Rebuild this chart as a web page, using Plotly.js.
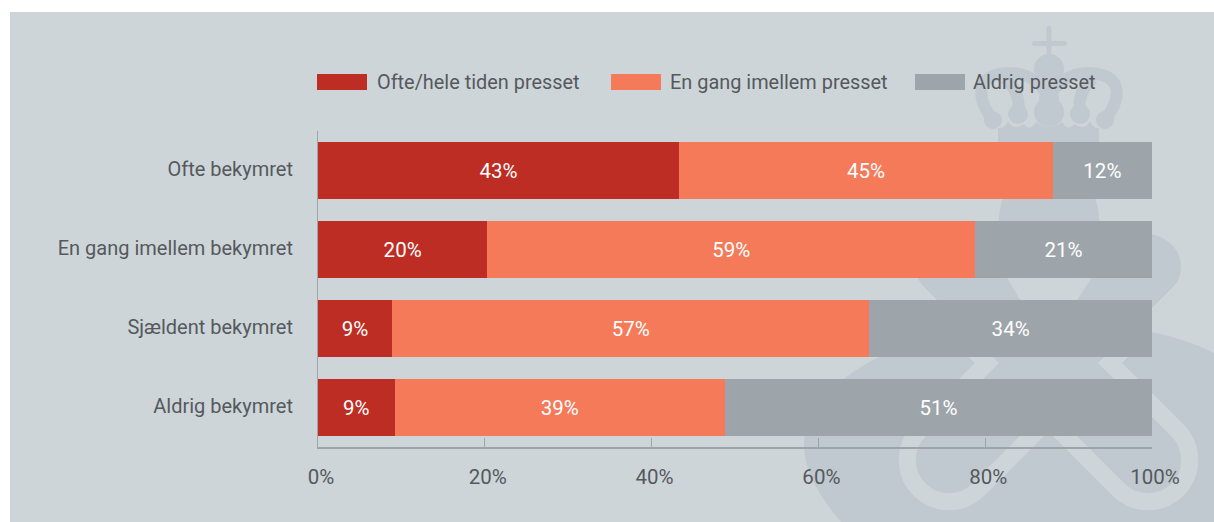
<!DOCTYPE html>
<html>
<head>
<meta charset="utf-8">
<script src="https://cdn.plot.ly/plotly-3.0.1.min.js"></script>
<style>html,body{margin:0;padding:0;background:#fff}#chart{width:1214px;height:522px}</style>
</head>
<body>
<div id="chart"></div>
<script>
const categories = ["Ofte bekymret", "En gang imellem bekymret", "Sjældent bekymret", "Aldrig bekymret"];
const seriesNames = ["Ofte/hele tiden presset", "En gang imellem presset", "Aldrig presset"];
const often = [43.3, 20.3, 8.9, 9.2];
const sometimes = [44.8, 58.5, 57.2, 39.6];
const never = [11.9, 21.2, 33.9, 51.2];
const oftenLabels = ["43%", "20%", "9%", "9%"];
const sometimesLabels = ["45%", "59%", "57%", "39%"];
const neverLabels = ["12%", "21%", "34%", "51%"];
const colors = ["#bd2d23", "#f47a5a", "#9da4aa"];
const tickValues = [0, 20, 40, 60, 80, 100];
const tickLabels = ["0%", "20%", "40%", "60%", "80%", "100%"];

const W = 1214, H = 522, FONT = "Roboto, sans-serif";
const margin = {l: 318, r: 62, t: 131, b: 75};
const px = x => (x - margin.l) / (W - margin.l - margin.r);
const py = y => (H - margin.b - y) / (H - margin.t - margin.b);

const BG = "#ced5d9", DK = "#c1c9d0";
const emblem = `<svg xmlns="http://www.w3.org/2000/svg" width="${W}" height="${H}" viewBox="0 0 ${W} ${H}">
<defs><clipPath id="c"><rect x="10" y="12" width="1204" height="510"/></clipPath></defs>
<rect x="10" y="12" width="1204" height="510" fill="${BG}"/>
<g clip-path="url(#c)">
<g fill="${DK}">
<rect x="1046.5" y="26" width="5" height="36" rx="2.5"/><rect x="1032" y="41" width="35" height="5" rx="2.5"/>
<circle cx="1049" cy="69" r="15"/><circle cx="1049" cy="98" r="10"/><circle cx="1049" cy="112" r="15"/>
<circle cx="1018" cy="114" r="10"/><circle cx="1080" cy="114" r="10"/><circle cx="993" cy="120" r="9"/><circle cx="1105" cy="120" r="9"/>
<path d="M998 146V128Q1005 129 1008 121Q1013 131 1024 124Q1030 132 1036 122Q1049 132 1062 122Q1068 132 1074 124Q1085 131 1090 121Q1093 129 1099 128V146Z"/>
<path d="M999 221C999 210 1001 203 1004 195H1094C1097 203 1099 210 1099 221V240L1130 233C1160 230 1181 245 1181 267C1181 277 1177 283 1173 287L1098 362H999L924 287C920 283 916 277 916 267C916 245 937 230 967 233L999 240Z"/>
<path d="M841 522C818 495 804 470 804 445C804 420 820 395 845 378C865 362 905 342 945 332H1152C1170 336 1195 343 1214 353V522Z"/>
</g>
<g fill="none" stroke="${DK}" stroke-width="12">
<path d="M995 122C976 100 976 78 1000 74C1020 70 1036 78 1046 92"/>
<path d="M1103 122C1122 100 1122 78 1098 74C1078 70 1062 78 1052 92"/>
<path d="M1005 78C1016 88 1020 100 1018 112"/>
<path d="M1093 78C1082 88 1078 100 1080 112"/>
</g>
<polygon fill="${BG}" points="1000,266 1099,266 1072,308 1025,308"/>
<g fill="none" stroke="${BG}" stroke-width="17" stroke-linejoin="miter">
<path d="M1170 303L1110 363L1177.5 430.5A41.5 41.5 0 0 1 1118.5 489.5L1025 396"/>
<path d="M927 303L987 363L919.5 430.5A41.5 41.5 0 0 0 978.5 489.5L1072 396"/>
</g>
</g>
</svg>`;

const mk = (name, x, c, t) => ({
  type: "bar", orientation: "h", name, y: categories, x, text: t,
  textposition: "inside", insidetextanchor: "middle", textangle: 0, constraintext: "none",
  textfont: {family: FONT, size: 20.5, color: "#ffffff"},
  marker: {color: c, line: {width: 0}}, showlegend: false, hoverinfo: "name+x"
});
const data = [
  mk(seriesNames[0], often, colors[0], oftenLabels),
  mk(seriesNames[1], sometimes, colors[1], sometimesLabels),
  mk(seriesNames[2], never, colors[2], neverLabels)
];

const legendX = [317, 611, 915];
const legendGap = [60, 59, 58];
const legendShapes = colors.map((c, i) => ({
  type: "rect", xref: "paper", yref: "paper", layer: "above", line: {width: 0}, fillcolor: c,
  x0: px(legendX[i]), x1: px(legendX[i] + 50), y0: py(90), y1: py(74)
}));
const legendText = seriesNames.map((n, i) => ({
  xref: "paper", yref: "paper", x: px(legendX[i] + legendGap[i] - 2), y: py(82),
  xanchor: "left", yanchor: "middle", showarrow: false, text: n,
  font: {family: FONT, size: 19.9, color: "#55595d"}
}));

const layout = {
  width: W, height: H, margin, barmode: "stack", bargap: 0.278, showlegend: false,
  paper_bgcolor: "#ffffff", plot_bgcolor: "rgba(0,0,0,0)",
  font: {family: FONT, color: "#55595d"},
  images: [{source: "data:image/svg+xml;utf8," + encodeURIComponent(emblem), xref: "paper", yref: "paper",
    x: px(0), y: py(0), sizex: W / (W - margin.l - margin.r), sizey: H / (H - margin.t - margin.b),
    xanchor: "left", yanchor: "top", sizing: "stretch", layer: "below"}],
  xaxis: {range: [0, 100], tickvals: tickValues, ticktext: tickLabels, ticks: "inside", ticklen: 9, tickwidth: 1,
    tickcolor: "#9da4aa", showline: true, linecolor: "#9da4aa", linewidth: 2, showgrid: false, zeroline: false,
    ticklabelstandoff: 10, ticklabelshift: 3, layer: "below traces",
    tickfont: {family: FONT, size: 20.5, color: "#55595d"}},
  yaxis: {autorange: false, range: [3.5, -0.5], type: "category", ticks: "", showline: true, linecolor: "#9da4aa",
    linewidth: 1, showgrid: false, zeroline: false, ticklabelstandoff: 20, ticklabelshift: 2, layer: "below traces",
    tickfont: {family: FONT, size: 20, color: "#55595d"}},
  shapes: legendShapes,
  annotations: legendText
};
Plotly.newPlot("chart", data, layout, {displayModeBar: false, staticPlot: true});
</script>
</body>
</html>
